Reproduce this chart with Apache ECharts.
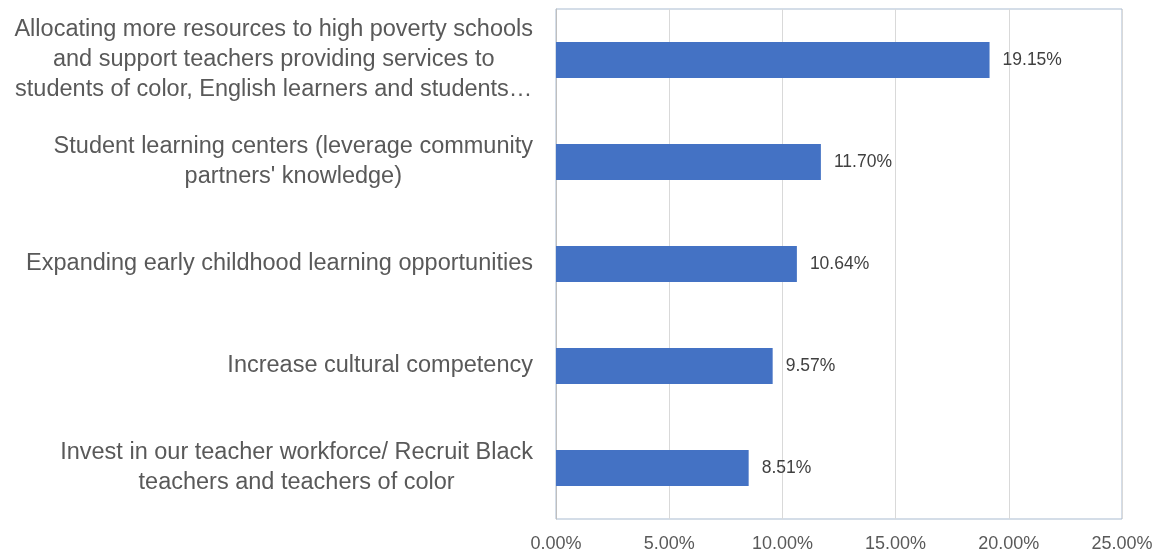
<!DOCTYPE html>
<html>
<head>
<meta charset="utf-8">
<script src="https://cdn.jsdelivr.net/npm/echarts@6/dist/echarts.min.js"></script>
<style>
  html, body { margin: 0; padding: 0; background: #fff; }
  #chart { width: 1158px; height: 554px; }
</style>
</head>
<body>
<div id="chart"></div>
<script>
// Strategy categories (top to bottom), wrapped as displayed
const categories = [
  'Allocating more resources to high poverty schools\nand support teachers providing services to\nstudents of color, English learners and students…',
  "Student learning centers (leverage community\npartners' knowledge)",
  'Expanding early childhood learning opportunities',
  'Increase cultural competency',
  'Invest in our teacher workforce/ Recruit Black\nteachers and teachers of color'
];
// Share of responses, percent
const shares = [19.15, 11.70, 10.64, 9.57, 8.51];
// Value axis ticks, percent
const xTicks = [0, 5, 10, 15, 20, 25];

const FONT = '"Liberation Sans", Arial, sans-serif';
const chart = echarts.init(document.getElementById('chart'), null, { renderer: 'canvas' });

chart.setOption({
  animation: false,
  backgroundColor: '#ffffff',
  grid: {
    left: 556, right: 36, top: 9, bottom: 35,
    show: true, borderColor: '#a9bbd0', borderWidth: 1, backgroundColor: 'transparent'
  },
  xAxis: {
    type: 'value',
    min: xTicks[0],
    max: xTicks[xTicks.length - 1],
    interval: xTicks[1] - xTicks[0],
    axisLine: { show: false },
    axisTick: { show: false },
    splitLine: { lineStyle: { color: '#d9d9d9', width: 1 } },
    axisLabel: {
      margin: 16,
      color: '#595959',
      fontFamily: FONT,
      fontSize: 18,
      formatter: v => v.toFixed(2) + '%'
    }
  },
  yAxis: {
    type: 'category',
    inverse: true,
    data: categories,
    axisLine: { show: true, lineStyle: { color: '#bfbfbf', width: 1 } },
    axisTick: { show: false },
    axisLabel: {
      margin: 23,
      align: 'right',
      color: '#595959',
      fontFamily: FONT,
      fontSize: 23.5,
      lineHeight: 30,
      formatter: v => v.split('\n').map(l => '{c|' + l + '}').join('\n'),
      rich: {
        c: { align: 'center', color: '#595959', fontFamily: FONT, fontSize: 23.5, lineHeight: 30 }
      }
    }
  },
  series: [{
    type: 'bar',
    data: shares,
    barWidth: 36,
    itemStyle: { color: '#4472c4' },
    label: {
      show: true,
      position: 'right',
      distance: 13,
      color: '#404040',
      fontFamily: FONT,
      fontSize: 17.5,
      formatter: p => p.value.toFixed(2) + '%'
    }
  }]
});
</script>
</body>
</html>
